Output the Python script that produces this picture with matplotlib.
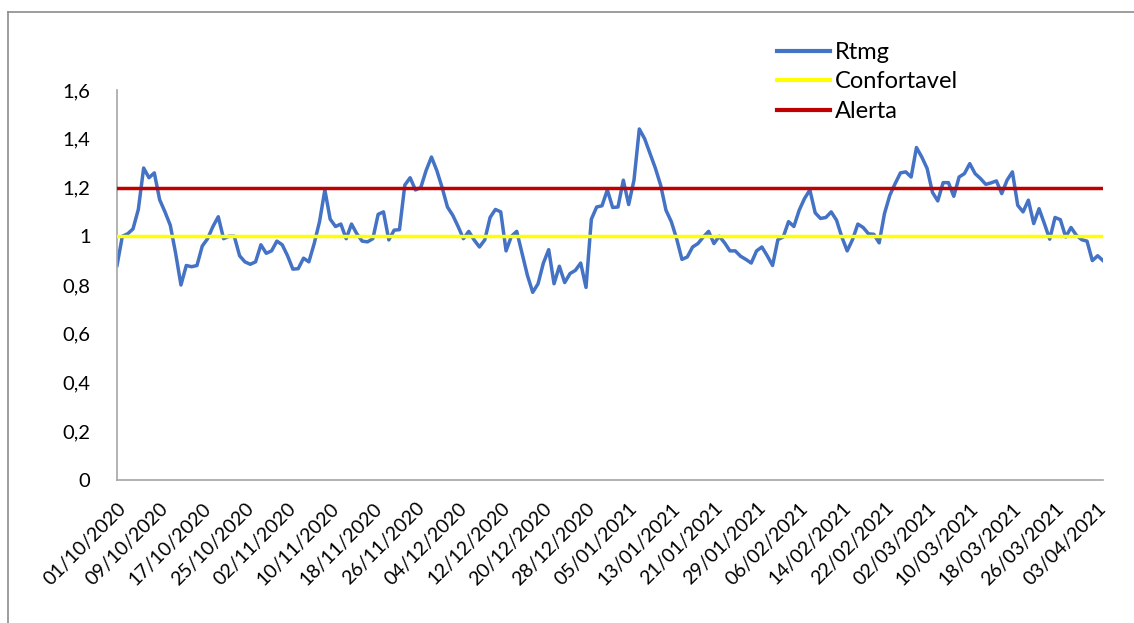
import datetime as dt
import matplotlib.pyplot as plt
from matplotlib.lines import Line2D

plt.rcParams['font.family'] = ['Lato', 'DejaVu Sans']

# daily values 01/10/2020 .. 04/04/2021
rtmg = [
    0.88, 1.00, 1.01, 1.03, 1.11, 1.28, 1.24, 1.26, 1.15, 1.10,
    1.045, 0.93, 0.80, 0.88, 0.875, 0.88, 0.96, 0.99, 1.04, 1.08,
    0.99, 1.00, 1.00, 0.92, 0.895, 0.885, 0.895, 0.965, 0.93, 0.94,
    0.98, 0.965, 0.92, 0.865, 0.867, 0.91, 0.895, 0.97, 1.06, 1.19,
    1.07, 1.04, 1.05, 0.99, 1.05, 1.01, 0.98, 0.977, 0.99, 1.09,
    1.10, 0.985, 1.025, 1.027, 1.21, 1.24, 1.19, 1.20, 1.27, 1.325,
    1.27, 1.20, 1.12, 1.086, 1.04, 0.99, 1.02, 0.985, 0.956, 0.985,
    1.077, 1.11, 1.10, 0.94, 1.00, 1.02, 0.93, 0.84, 0.77, 0.805,
    0.89, 0.945, 0.805, 0.877, 0.81, 0.847, 0.86, 0.89, 0.79, 1.07,
    1.12, 1.125, 1.19, 1.118, 1.12, 1.23, 1.13, 1.23, 1.44, 1.40,
    1.34, 1.28, 1.21, 1.107, 1.06, 0.99, 0.905, 0.915, 0.956, 0.97,
    0.997, 1.02, 0.97, 1.00, 0.973, 0.94, 0.94, 0.918, 0.905, 0.89,
    0.94, 0.956, 0.92, 0.88, 0.986, 0.997, 1.06, 1.04, 1.107, 1.155,
    1.19, 1.096, 1.073, 1.077, 1.10, 1.066, 0.997, 0.94, 0.986, 1.05,
    1.036, 1.01, 1.008, 0.973, 1.093, 1.168, 1.216, 1.26, 1.264, 1.243,
    1.364, 1.325, 1.278, 1.18, 1.145, 1.22, 1.22, 1.164, 1.243, 1.257,
    1.298, 1.257, 1.237, 1.213, 1.219, 1.227, 1.175, 1.23, 1.264, 1.127,
    1.10, 1.148, 1.052, 1.113, 1.052, 0.988, 1.077, 1.068, 0.997, 1.036,
    1.004, 0.986, 0.98, 0.90, 0.92, 0.90,
]
confortavel_level = 1.0
alerta_level = 1.2
start_date = dt.date(2020, 10, 1)
label_step = 8

n = len(rtmg)
dates = [start_date + dt.timedelta(days=k) for k in range(n)]
x = list(range(n))

fig = plt.figure(figsize=(11.34, 6.23), dpi=100)
W, H = 1134, 623
ax = fig.add_axes([117 / W, 1 - 480 / H, (1103 - 117) / W, (480 - 90) / H])

ax.plot(x, rtmg, color='#4472C4', lw=2.5, label='Rtmg', zorder=2,
        solid_joinstyle='round')
ax.plot(x, [confortavel_level] * n, color='#FFFF00', lw=2.5,
        label='Confortavel', zorder=3)
ax.plot(x, [alerta_level] * n, color='#C00000', lw=2.5, label='Alerta', zorder=4)

ax.set_xlim(0, n - 1)
ax.set_ylim(0, 1.6)
yt = [0, 0.2, 0.4, 0.6, 0.8, 1.0, 1.2, 1.4, 1.6]
ax.set_yticks(yt)
ax.set_yticklabels([('%g' % v).replace('.', ',') for v in yt], fontsize=14.5)
xt = list(range(0, n, label_step))
ax.set_xticks(xt)
ax.set_xticklabels([dates[k].strftime('%d/%m/%Y') for k in xt], fontsize=14,
                   rotation=45, ha='right', rotation_mode='anchor')
ax.tick_params(axis='both', length=0)
ax.tick_params(axis='y', pad=19)
ax.tick_params(axis='x', pad=14)

for side in ['top', 'right']:
    ax.spines[side].set_visible(False)
for side in ['left', 'bottom']:
    ax.spines[side].set_color('#A6A6A6')
    ax.spines[side].set_linewidth(1.2)

leg = ax.legend(loc='upper left', bbox_to_anchor=(777 / W, 1 - 42 / H),
                bbox_transform=fig.transFigure, frameon=False, fontsize=17,
                handlelength=2.25, handletextpad=0.2, labelspacing=0.36,
                borderpad=0, borderaxespad=0)
for line in leg.get_lines():
    line.set_linewidth(3)

# chart area border (left and top only visible)
fig.add_artist(Line2D([8 / W, 8 / W], [0, 1 - 12 / H], transform=fig.transFigure,
                      color='#8C8C8C', lw=1.2))
fig.add_artist(Line2D([8 / W, 1], [1 - 12 / H, 1 - 12 / H], transform=fig.transFigure,
                      color='#8C8C8C', lw=1.2))

fig.savefig('out.png', dpi=100)
